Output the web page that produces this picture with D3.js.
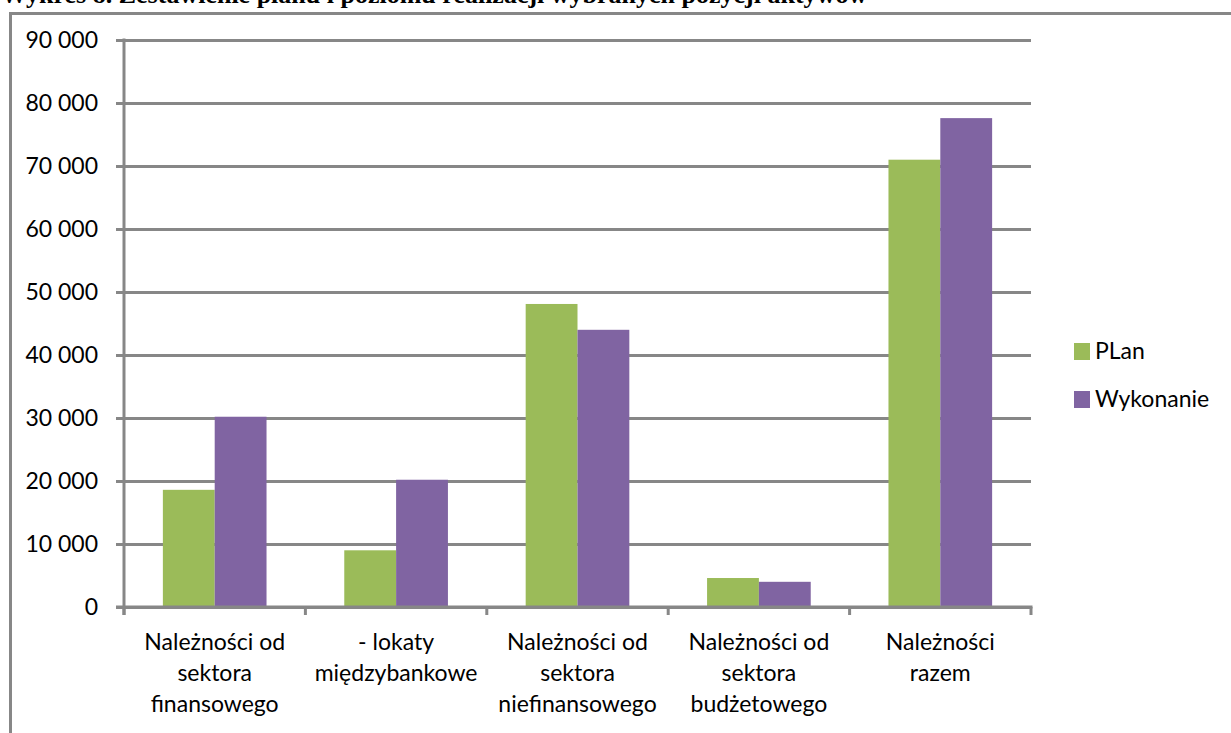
<!DOCTYPE html>
<html>
<head>
<meta charset="utf-8">
<script src="https://cdn.jsdelivr.net/npm/d3@7"></script>
<style>
  html, body { margin: 0; padding: 0; background: #fff; }
  svg { display: block; }
</style>
</head>
<body>
<svg id="chart" width="1231" height="733"></svg>
<script>
// Plan vs execution of selected asset items
const categories = [
  ["Należności od", "sektora", "finansowego"],
  ["- lokaty", "międzybankowe"],
  ["Należności od", "sektora", "niefinansowego"],
  ["Należności od", "sektora", "budżetowego"],
  ["Należności", "razem"]
];
const seriesNames = ["PLan", "Wykonanie"];
const planValues = [18600, 9000, 48100, 4600, 71000];
const wykonanieValues = [30200, 20200, 44000, 4000, 77600];
const yTicks = [0, 10000, 20000, 30000, 40000, 50000, 60000, 70000, 80000, 90000];
const titleText = "Wykres 8. Zestawienie planu i poziomu realizacji wybranych pozycji aktywów";

const colors = ["#9BBB59", "#8064A2"];
const gridColor = "#878787";
const font = "Lato, 'Open Sans', sans-serif";
const fontSize = 23;

const svg = d3.select("#chart");

// Title (its upper part runs above the top edge)
svg.append("text")
  .attr("x", 1).attr("y", 3)
  .attr("font-family", "'Liberation Serif', 'Times New Roman', serif")
  .attr("font-weight", "bold")
  .attr("font-size", 26)
  .attr("fill", "#000")
  .text(titleText);

// Outer chart frame
svg.append("rect")
  .attr("x", 10.5).attr("y", 13.5)
  .attr("width", 1400).attr("height", 900)
  .attr("fill", "none")
  .attr("stroke", gridColor)
  .attr("stroke-width", 3);

const catIdx = categories.map((d, i) => i);
const x0 = d3.scaleBand().domain(catIdx).range([124, 1031]).paddingInner(0).paddingOuter(0);
const x1 = d3.scaleBand().domain(seriesNames).range([0, x0.bandwidth()]).paddingInner(0).paddingOuter(0.75);
const y = d3.scaleLinear().domain([0, 90000]).range([607, 40]);

const locale = d3.formatLocale({ decimal: ",", thousands: " ", grouping: [3], currency: ["", " zł"] });
const fmt = locale.format(",d");

// Horizontal gridlines with left tick stubs
const yAxis = d3.axisLeft(y).tickValues(yTicks).tickSize(-(1031 - 124)).tickSizeOuter(0).tickPadding(26).tickFormat(fmt);
const gy = svg.append("g").attr("transform", "translate(124,0)").call(yAxis);
gy.select(".domain").remove();
gy.selectAll(".tick line")
  .attr("x1", -8)
  .attr("stroke", gridColor)
  .attr("stroke-width", 3);
gy.selectAll(".tick text")
  .attr("font-family", font)
  .attr("font-size", fontSize)
  .attr("fill", "#000");

// Bars
const rows = catIdx.map(i => ({ i, vals: [planValues[i], wykonanieValues[i]] }));
const groups = svg.append("g").selectAll("g").data(rows).join("g")
  .attr("transform", d => `translate(${x0(d.i)},0)`);
groups.selectAll("rect")
  .data(d => d.vals.map((v, k) => ({ k, v })))
  .join("rect")
  .attr("x", d => x1(seriesNames[d.k]))
  .attr("y", d => y(d.v))
  .attr("width", x1.bandwidth())
  .attr("height", d => y(0) - y(d.v))
  .attr("fill", d => colors[d.k]);

// Vertical axis line
svg.append("line")
  .attr("x1", 124).attr("x2", 124)
  .attr("y1", y(90000) - 1.5).attr("y2", y(0) + 8)
  .attr("stroke", gridColor).attr("stroke-width", 3);

// Category axis with tick marks at band boundaries
svg.append("line")
  .attr("x1", 116).attr("x2", 1032.5)
  .attr("y1", y(0)).attr("y2", y(0))
  .attr("stroke", gridColor).attr("stroke-width", 3);
const boundaries = catIdx.map(i => x0(i)).concat([x0(catIdx.length - 1) + x0.bandwidth()]);
svg.append("g").selectAll("line").data(boundaries).join("line")
  .attr("x1", d => d).attr("x2", d => d)
  .attr("y1", y(0)).attr("y2", y(0) + 8)
  .attr("stroke", gridColor).attr("stroke-width", 3);

// Category labels
const labels = svg.append("g").selectAll("text").data(rows).join("text")
  .attr("text-anchor", "middle")
  .attr("font-family", font)
  .attr("font-size", fontSize)
  .attr("fill", "#000");
labels.selectAll("tspan")
  .data(d => categories[d.i].map(line => ({ line, cx: x0(d.i) + x0.bandwidth() / 2 })))
  .join("tspan")
  .attr("x", d => d.cx)
  .attr("y", (d, j) => 650 + j * 31)
  .text(d => d.line);

// Legend
const legend = svg.append("g").selectAll("g").data(seriesNames).join("g")
  .attr("transform", (d, k) => `translate(1074,${343 + k * 48})`);
legend.append("rect")
  .attr("width", 16).attr("height", 17)
  .attr("fill", (d, k) => colors[k]);
legend.append("text")
  .attr("x", 21).attr("y", 16)
  .attr("font-family", font)
  .attr("font-size", fontSize)
  .attr("fill", "#000")
  .text(d => d);
</script>
</body>
</html>
